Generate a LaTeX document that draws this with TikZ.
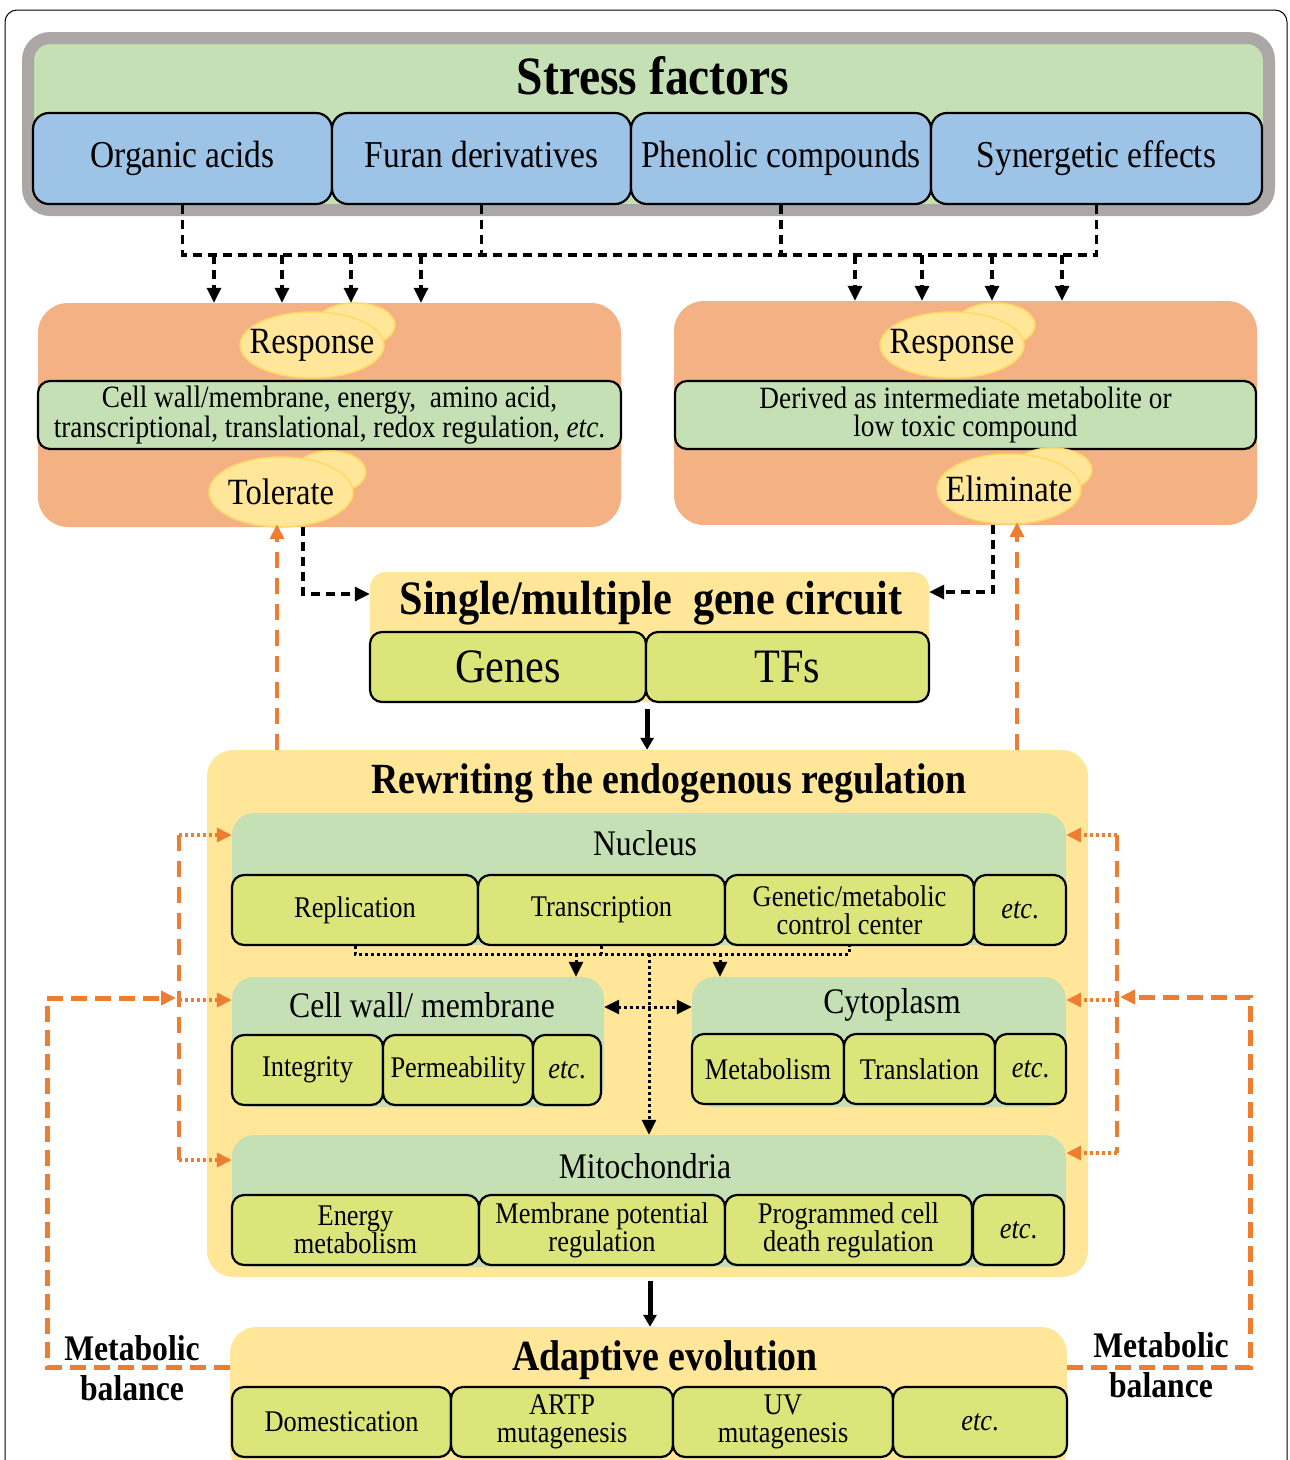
\documentclass[tikz,border=0pt]{standalone}
\usepackage{fontspec}
\setmainfont{Liberation Serif}[FakeStretch=0.88]
\usepackage{xcolor}
\usetikzlibrary{arrows.meta,shapes.geometric,positioning}
\definecolor{framegray}{HTML}{ABA7A7}
\definecolor{leaf}{HTML}{C5E0B4}
\definecolor{sky}{HTML}{9DC3E6}
\definecolor{salmon}{HTML}{F4B183}
\definecolor{butter}{HTML}{FFE699}
\definecolor{butteredge}{HTML}{FFD966}
\definecolor{limebox}{HTML}{DCE57A}
\definecolor{carrot}{HTML}{ED7D31}
\newcommand{\fsz}[2]{\fontsize{#1}{#2}\selectfont}
\tikzset{font={\fsz{30}{28}}}

\begin{document}
\begin{tikzpicture}[x=1pt,y=-1pt,
>={Triangle[length=15pt,width=14pt]},
wh/.style 2 args={minimum width=#1pt,minimum height=#2pt},
cell/.style={draw,line width=2.2pt,fill=limebox,rounded corners=12pt,inner sep=0pt,align=center},
stressbox/.style={cell,fill=sky,rounded corners=16pt,font=\fsz{38}{40},text height=26pt,text depth=8pt},
panel/.style={fill=leaf,rounded corners=22pt,inner sep=0pt},
holder/.style={fill=butter,rounded corners=26pt,inner sep=0pt},
bubble/.style={ellipse,fill=butter,draw=butteredge,line width=1.5pt,inner sep=0pt},
heading/.style={font=\bfseries\fsz{43}{46}},
subhead/.style={font=\fsz{36}{40}},
blkdash/.style={line width=3.2pt,dash pattern=on 9pt off 6pt},
blkdot/.style={line width=3pt,dash pattern=on 3pt off 3pt},
blkarrow/.style={line width=5pt,->,>={Triangle[length=12pt,width=13pt]}},
orgbig/.style={draw=carrot,line width=5pt,dash pattern=on 16pt off 8pt},
orgdash/.style={draw=carrot,line width=4.5pt,dash pattern=on 16pt off 10pt},
orgdot/.style={draw=carrot,line width=3.5pt,dash pattern=on 3pt off 3pt}
]
\useasboundingbox (0,0) rectangle (1290,1460);
\draw[line width=1pt,rounded corners=12pt] (5,1475) -- (5,10) -- (1287,10) -- (1287,1475);

%stress factors
\node[draw=framegray,line width=12pt,fill=leaf,rounded corners=22pt,wh={1241}{172}] (sf) at (648.5,124) {};
\node[font=\bfseries\fsz{54}{60}] (st) at (653,76) {Stress factors};
\node[stressbox,wh={299}{91}] (oa) at (182.5,158.5) {Organic acids};
\node[stressbox,wh={299}{91}] (fd) at (481.5,158.5) {Furan derivatives};
\node[stressbox,wh={300}{91}] (pc) at (781,158.5) {Phenolic compounds};
\node[stressbox,wh={331}{91}] (se) at (1096.5,158.5) {Synergetic effects};

%response boxes
\node[fill=salmon,rounded corners=30pt,wh={583}{224}] (lbox) at (329.5,415) {};
\node[fill=salmon,rounded corners=30pt,wh={583}{224}] (rbox) at (965.5,413) {};
\node[cell,fill=leaf,wh={583}{68},font=\fsz{31}{28}] (lband) at (329.5,415)
  {Cell wall/membrane, energy,~ amino acid,\\transcriptional, translational, redox regulation, \emph{etc}.};
\node[cell,fill=leaf,wh={581}{68},font=\fsz{31}{28}] (rband) at (965.5,415)
  {Derived as intermediate metabolite or\\low toxic compound};
\node[bubble,wh={80}{44}] (rsb1) at (355,325) {};
\node[bubble,wh={144}{66},label={[font=\fsz{37}{40}]center:Response}] (rs1) at (312,345) {};
\node[bubble,wh={72}{42}] (tlb) at (330,472) {};
\node[bubble,wh={144}{70},label={[font=\fsz{37}{40}]center:Tolerate}] (tl) at (281,492) {};
\node[bubble,wh={80}{44}] (rsb2) at (995,325) {};
\node[bubble,wh={144}{66},label={[font=\fsz{37}{40}]center:Response}] (rs2) at (952,345) {};
\node[bubble,wh={80}{44}] (elb) at (1052,470) {};
\node[bubble,wh={144}{70},label={[font=\fsz{37}{40}]center:Eliminate}] (el) at (1009,489) {};

\draw[blkdash] (oa.south) -- (oa.south |- 0,255) -- (se.south |- 0,255) -- (se.south);
\draw[blkdash] (fd.south) -- (fd.south |- 0,255);
\draw[blkdash] (pc.south) -- (pc.south |- 0,255);
\foreach \x in {214,282,351,421} \draw[blkdash,->] (\x,255) -- (\x,0 |- lbox.north);
\foreach \x in {855,922,992,1062} \draw[blkdash,->] (\x,255) -- (\x,0 |- rbox.north);

%gene circuit
\node[holder,rounded corners=16pt,wh={559}{130}] (gbox) at (649.5,637) {};
\node[font=\bfseries\fsz{48}{50}] (gt) at (651,603) {Single/multiple~ gene circuit};
\node[cell,wh={276}{70},font=\fsz{48}{50}] (genes) at (508,667) {Genes};
\node[cell,wh={283}{70},font=\fsz{48}{50}] (tfs) at (787.5,667) {TFs};
\draw[blkdash,->] (303,0 |- lbox.south) |- (gbox.west |- 0,594);
\draw[blkdash,->] (993,0 |- rbox.south) |- (gbox.east |- 0,592);

%rewriting
\node[holder,wh={881}{527}] (rw) at (647.5,1013.5) {};
\node[heading] (rwt) at (669,783) {Rewriting the endogenous regulation};
\draw[blkarrow] (genes.south east) ++(0,6) -- (genes.south east |- rw.north);
\draw[orgdash,->] (277,0 |- rw.north) -- ([yshift=3pt]277,0 |- lbox.south);
\draw[orgdash,->] (1017,0 |- rw.north) -- ([yshift=3pt]1017,0 |- rbox.south);

\node[panel,wh={834}{132}] (nuc) at (649,879) {};
\node[subhead] (nuct) at (645,843) {Nucleus};
\node[cell,wh={246}{70}] (rep) at (355,910) {Replication};
\node[cell,wh={247}{70}] (tra) at (601.5,910) {Transcription};
\node[cell,wh={249}{70}] (gen) at (849.5,910) {Genetic/metabolic\\control center};
\node[cell,wh={92}{70}] (nuce) at (1020,910) {\emph{etc}.};

\node[panel,wh={372}{130}] (cw) at (418,1042) {};
\node[subhead] (cwt) at (422,1005) {Cell wall/ membrane};
\node[cell,wh={151}{70}] (int) at (307.5,1070) {Integrity};
\node[cell,wh={150}{70}] (perm) at (458,1070) {Permeability};
\node[cell,wh={68}{70}] (cwe) at (567,1070) {\emph{etc}.};

\node[panel,wh={374}{130}] (cy) at (879,1042) {};
\node[subhead] (cyt) at (892,1005) {Cytoplasm};
\node[cell,wh={152}{70}] (met) at (768,1069) {Metabolism};
\node[cell,wh={151}{70}] (trl) at (919.5,1069) {Translation};
\node[cell,wh={71}{70}] (cye) at (1030.5,1069) {\emph{etc}.};

\node[panel,wh={834}{132}] (mi) at (649,1201) {};
\node[subhead] (mit) at (645,1166) {Mitochondria};
\node[cell,wh={247}{70}] (en) at (355.5,1230) {Energy\\metabolism};
\node[cell,wh={246}{70}] (mp) at (602,1230) {Membrane potential\\regulation};
\node[cell,wh={247}{70}] (pcd) at (848.5,1230) {Programmed cell\\death regulation};
\node[cell,wh={91}{70}] (mie) at (1018.5,1230) {\emph{etc}.};

%dotted links inside the cell
\draw[blkdot] (rep.south) -- (rep.south |- 0,954) -- (gen.south |- 0,954) -- (gen.south);
\draw[blkdot] (tra.south) -- (tra.south |- 0,954);
\draw[blkdot,->] (576,954) -- (576,0 |- cw.north);
\draw[blkdot,->] (720,954) -- (720,0 |- cy.north);
\draw[blkdot,->] (649,954) -- (649,0 |- mi.north);
\draw[blkdot,<->] (cw.east |- 0,1007) -- (cy.west |- 0,1007);

\draw[orgdash,line width=4pt] (179,835) -- (179,1160);
\draw[orgdash,line width=4pt] (1117,835) -- (1117,1153);
\foreach \y/\n in {835/nuc,1000/cw,1160/mi} \draw[orgdot,->] (179,\y) -- (\n.west |- 179,\y);
\foreach \y/\n in {835/nuc,1000/cy,1153/mi} \draw[orgdot,->] (1117,\y) -- (\n.east |- 1117,\y);

%adaptive evolution
\node[holder,wh={837}{148}] (ae) at (648.5,1401) {};
\node[heading] (aet) at (665,1360) {Adaptive evolution};
\node[cell,wh={219}{70}] (dom) at (341.5,1422) {Domestication};
\node[cell,wh={222}{70}] (artp) at (562,1422) {ARTP\\mutagenesis};
\node[cell,wh={220}{70}] (uv) at (783,1422) {UV\\mutagenesis};
\node[cell,wh={174}{70}] (aee) at (980,1422) {\emph{etc}.};
\draw[blkarrow] (650,0 |- rw.south) ++(0,4) -- (650,0 |- ae.north);

%metabolic balance loops
\draw[orgbig,->] (ae.west |- 0,1367) -| (47,998) -- (176,998);
\draw[orgbig,->] (ae.east |- 0,1367) -| (1250,997) -- (1120,997);
\node[font=\bfseries\fsz{36}{40},align=center] (mbl) at (132,1368) {Metabolic\\balance};
\node[font=\bfseries\fsz{36}{40},align=center] (mbr) at (1161,1365) {Metabolic\\balance};

\end{tikzpicture}
\end{document}
